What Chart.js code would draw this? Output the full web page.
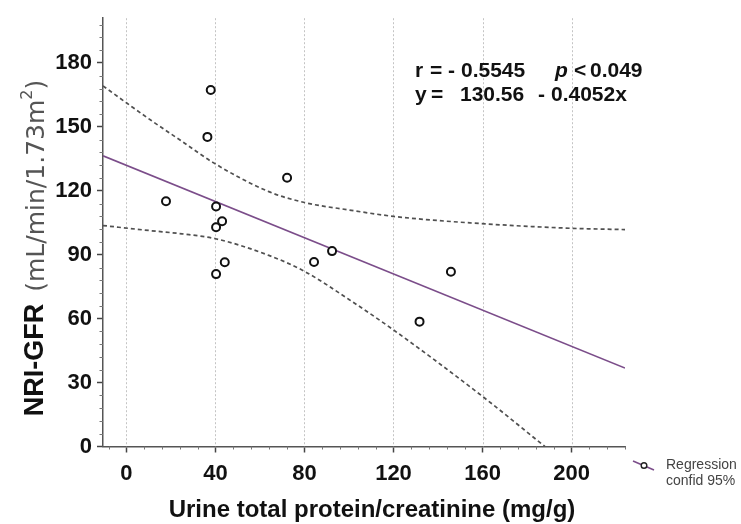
<!DOCTYPE html>
<html>
<head>
<meta charset="utf-8">
<script src="https://cdn.jsdelivr.net/npm/chart.js@4/dist/chart.umd.min.js"></script>
<style>
html,body{margin:0;padding:0;background:#ffffff;}
canvas{display:block;}
</style>
</head>
<body>
<canvas id="c" width="741" height="524"></canvas>
<script>
// ---- data ----
const pointX = [17.8, 36.4, 37.9, 40.3, 40.3, 40.3, 43.0, 44.2, 72.2, 84.3, 92.4, 131.7, 145.8];
const pointY = [115.1, 145.3, 167.3, 112.6, 102.9, 80.9, 105.7, 86.5, 126.1, 86.6, 91.7, 58.6, 82.0];

const regressionX = [-10.5, 224];
const regressionY = [136.4, 36.8];

const upperBandX = [-10.5, 0, 10.9, 25, 39.2, 64, 80, 100, 120, 155, 200, 224];
const upperBandY = [169.2, 161.3, 153.2, 143.2, 133.1, 119.6, 114.5, 111.0, 108.0, 104.9, 102.4, 101.8];

const lowerBandX = [-10.5, 10.8, 25, 40.5, 64, 80, 100, 120, 160, 188];
const lowerBandY = [103.7, 101.3, 99.8, 97.4, 89.7, 82.2, 69.0, 54.7, 23.5, 0];

const xTickValues = [0, 40, 80, 120, 160, 200];
const yTickValues = [0, 30, 60, 90, 120, 150, 180];
const xMinorStep = 8;
const yMinorStep = 6;
const xRange = [-10.5, 224];
const yRange = [0, 201];

const xTitle = 'Urine total protein/creatinine (mg/g)';
const yTitleMain = 'NRI-GFR';
const yTitleUnit = '(mL/min/1.73m';
const yTitleSup = '2';
const yTitleEnd = ')';
const statLine1 = [['r', 415], ['=', 430], ['-', 448], ['0.5545', 461], ['p', 555], ['<', 574], ['0.049', 590]];
const statLine2 = [['y', 415], ['=', 431], ['130.56', 460], ['-', 538], ['0.4052x', 551]];
const legendLines = ['Regression', 'confid 95%'];

const toXY = (xs, ys) => xs.map((x, i) => ({x: x, y: ys[i]}));

const PURPLE = '#7b4d8a';
const BAND = '#505050';
const AXIS = '#555555';

const decorPlugin = {
  id: 'decor',
  beforeDatasetsDraw(chart) {
    const {ctx, chartArea, scales} = chart;
    ctx.save();
    ctx.strokeStyle = '#c4c4c4';
    ctx.lineWidth = 1;
    ctx.setLineDash([2, 2]);
    xTickValues.forEach(v => {
      const px = Math.round(scales.x.getPixelForValue(v)) + 0.5;
      ctx.beginPath();
      ctx.moveTo(px, chartArea.top);
      ctx.lineTo(px, chartArea.bottom);
      ctx.stroke();
    });
    ctx.restore();
  },
  afterDraw(chart) {
    const {ctx, chartArea, scales} = chart;
    ctx.save();
    // minor ticks
    ctx.strokeStyle = '#777';
    ctx.lineWidth = 1;
    for (let v = yRange[0]; v <= yRange[1]; v += yMinorStep) {
      if (yTickValues.includes(v)) continue;
      const py = Math.round(scales.y.getPixelForValue(v)) + 0.5;
      ctx.beginPath();
      ctx.moveTo(chartArea.left - 3.5, py);
      ctx.lineTo(chartArea.left, py);
      ctx.stroke();
    }
    for (let v = -8; v <= xRange[1]; v += xMinorStep) {
      if (xTickValues.includes(v)) continue;
      const px = Math.round(scales.x.getPixelForValue(v)) + 0.5;
      ctx.beginPath();
      ctx.moveTo(px, chartArea.bottom);
      ctx.lineTo(px, chartArea.bottom + 3);
      ctx.stroke();
    }

    // x title
    ctx.fillStyle = '#111';
    ctx.font = 'bold 24px "Liberation Sans", Arial, sans-serif';
    ctx.textAlign = 'center';
    ctx.textBaseline = 'middle';
    ctx.fillText(xTitle, 372, 510);

    // y title (rotated)
    ctx.save();
    ctx.translate(36, 248);
    ctx.rotate(-Math.PI / 2);
    ctx.textAlign = 'left';
    ctx.textBaseline = 'middle';
    const fMain = 'bold 27px "Liberation Sans", Arial, sans-serif';
    const fUnit = '25px "DejaVu Sans", sans-serif';
    const fSup = '16px "DejaVu Sans", sans-serif';
    ctx.font = fMain; const wMain = ctx.measureText(yTitleMain).width;
    ctx.font = fUnit; const wUnit = ctx.measureText(yTitleUnit).width; const wEnd = ctx.measureText(yTitleEnd).width;
    ctx.font = fSup; const wSup = ctx.measureText(yTitleSup).width;
    const gap = 12;
    const total = wMain + gap + wUnit + wSup + wEnd;
    let cx = -total / 2;
    ctx.fillStyle = '#111';
    ctx.font = fMain; ctx.fillText(yTitleMain, cx, 0); cx += wMain + gap;
    ctx.fillStyle = '#555';
    ctx.font = fUnit; ctx.fillText(yTitleUnit, cx, 1); cx += wUnit;
    ctx.font = fSup; ctx.fillText(yTitleSup, cx, -8); cx += wSup;
    ctx.font = fUnit; ctx.fillText(yTitleEnd, cx, 1);
    ctx.restore();

    // statistics annotation
    ctx.fillStyle = '#111';
    ctx.textAlign = 'left';
    ctx.textBaseline = 'alphabetic';
    statLine1.forEach(([t, x]) => {
      ctx.font = (t === 'p' ? 'italic bold ' : 'bold ') + '21px "Liberation Sans", Arial, sans-serif';
      ctx.fillText(t, x, 77);
    });
    statLine2.forEach(([t, x]) => {
      ctx.font = 'bold 21px "Liberation Sans", Arial, sans-serif';
      ctx.fillText(t, x, 101);
    });

    // legend
    ctx.strokeStyle = PURPLE;
    ctx.lineWidth = 1.6;
    ctx.beginPath();
    ctx.moveTo(633, 461);
    ctx.lineTo(654, 470);
    ctx.stroke();
    ctx.strokeStyle = '#222';
    ctx.fillStyle = '#fff';
    ctx.lineWidth = 1.4;
    ctx.beginPath();
    ctx.arc(644, 465.5, 2.8, 0, Math.PI * 2);
    ctx.fill();
    ctx.stroke();
    ctx.fillStyle = '#444';
    ctx.font = '14px "Liberation Sans", Arial, sans-serif';
    ctx.fillText(legendLines[0], 666, 469);
    ctx.fillText(legendLines[1], 666, 485);
    ctx.restore();
  }
};

new Chart(document.getElementById('c'), {
  type: 'scatter',
  data: {
    datasets: [
      {
        label: 'data',
        data: toXY(pointX, pointY),
        showLine: false,
        pointRadius: 4,
        pointBorderWidth: 2,
        pointBorderColor: '#111',
        pointBackgroundColor: '#fff'
      },
      {
        label: 'Regression',
        data: toXY(regressionX, regressionY),
        showLine: true,
        pointRadius: 0,
        borderColor: PURPLE,
        borderWidth: 1.7
      },
      {
        label: 'upper 95%',
        data: toXY(upperBandX, upperBandY),
        showLine: true,
        pointRadius: 0,
        borderColor: BAND,
        borderWidth: 1.7,
        borderDash: [4, 3],
        cubicInterpolationMode: 'monotone'
      },
      {
        label: 'lower 95%',
        data: toXY(lowerBandX, lowerBandY),
        showLine: true,
        pointRadius: 0,
        borderColor: BAND,
        borderWidth: 1.7,
        borderDash: [4, 3],
        cubicInterpolationMode: 'monotone'
      }
    ]
  },
  options: {
    responsive: false,
    animation: false,
    devicePixelRatio: 1,
    layout: {padding: {left: 0, right: 116, top: 13, bottom: 0}},
    plugins: {legend: {display: false}, tooltip: {enabled: false}},
    scales: {
      x: {
        type: 'linear',
        min: xRange[0],
        max: xRange[1],
        afterBuildTicks: a => { a.ticks = xTickValues.map(v => ({value: v})); },
        afterFit: s => { s.height = 77.5; },
        grid: {drawOnChartArea: false, drawTicks: true, tickLength: 6, tickColor: '#444', tickWidth: 1.5},
        border: {display: true, color: AXIS, width: 1.5},
        ticks: {padding: 8, color: '#111', maxRotation: 0, font: {family: '"Liberation Sans", Arial, sans-serif', weight: 'bold', size: 22}}
      },
      y: {
        type: 'linear',
        min: yRange[0],
        max: yRange[1],
        afterBuildTicks: a => { a.ticks = yTickValues.map(v => ({value: v})); },
        afterFit: s => { s.width = 103; },
        grid: {drawOnChartArea: false, drawTicks: true, tickLength: 6, tickColor: '#444', tickWidth: 1.5},
        border: {display: true, color: AXIS, width: 1.5},
        ticks: {padding: 5, color: '#111', font: {family: '"Liberation Sans", Arial, sans-serif', weight: 'bold', size: 22}}
      }
    }
  },
  plugins: [decorPlugin]
});
</script>
</body>
</html>
